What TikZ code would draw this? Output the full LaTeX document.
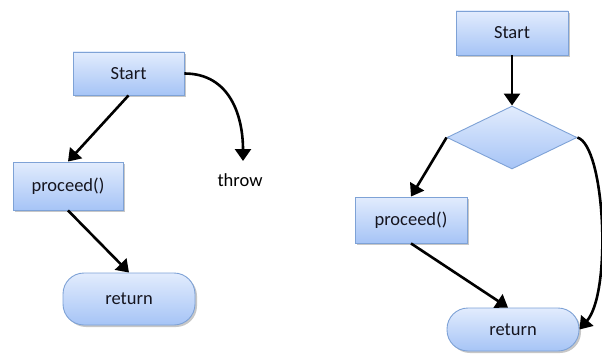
\documentclass[tikz,border=0pt]{standalone}
\usepackage{fontspec}
\setmainfont{Carlito}
\usetikzlibrary{arrows.meta,shapes.geometric,shadows}
\definecolor{boxedge}{HTML}{7EA2D6}
\definecolor{boxtop}{HTML}{E2ECFD}
\definecolor{boxbot}{HTML}{A6C4F6}
\definecolor{inktext}{HTML}{15151F}
\tikzset{
  blockfill/.style={draw=boxedge, line width=0.9pt, top color=boxtop, bottom color=boxbot,
    text=inktext, font=\fontsize{18.5}{21}\selectfont},
  shadowed/.style={drop shadow={shadow xshift=2pt, shadow yshift=-2pt, opacity=0.22, fill=black}},
  procbox/.style={blockfill, shadowed, rectangle, inner sep=0pt},
  termbox/.style={blockfill, shadowed, rectangle, rounded corners=21pt, inner sep=0pt},
  decbox/.style={blockfill, diamond, inner sep=0pt, minimum width=130pt, minimum height=63pt},
  flow/.style={draw=black, line width=2.6pt, -{Triangle[width=16pt,length=12pt]}},
  plain/.style={font=\fontsize{18.5}{21}\selectfont, text=black}
}
\begin{document}
\begin{tikzpicture}[x=1pt, y=-1pt]
  \useasboundingbox (0,0) rectangle (602,361);

  % left flow: start, proceed, return and the thrown exit
  \node[procbox, minimum width=111pt, minimum height=43pt] (s1) at (128.5,73.5) {Start};
  \node[procbox, minimum width=110pt, minimum height=48pt] (p1) at (68,186) {proceed()};
  \node[termbox, minimum width=132pt, minimum height=52pt] (r1) at (129,299) {return};
  \node[plain] (t1) at (240,180) {throw};
  \coordinate (t1tip) at (243,161);

  \draw[flow] (s1.south) -- (p1.north);
  \draw[flow] (p1.south) -- (r1.north);
  \draw[flow] (s1.east) to[out=0, in=90, looseness=1.1] (t1tip);

  % right flow: start, decision, proceed and return
  \node[procbox, minimum width=112pt, minimum height=44pt] (s2) at (512,33) {Start};
  \node[decbox] (d2) at (512,137.5) {};
  \node[procbox, minimum width=112pt, minimum height=46pt] (p2) at (411,220) {proceed()};
  \node[termbox, minimum width=132pt, minimum height=43pt] (r2) at (513,329.5) {return};

  \draw[flow] (s2.south) -- (d2.north);
  \draw[flow] (d2.west) -- (p2.north);
  \draw[flow] (p2.south) -- ([xshift=-5pt]r2.north);
  \draw[flow] (d2.east) .. controls (605,146) and (612,292) .. (r2.east);
\end{tikzpicture}
\end{document}
